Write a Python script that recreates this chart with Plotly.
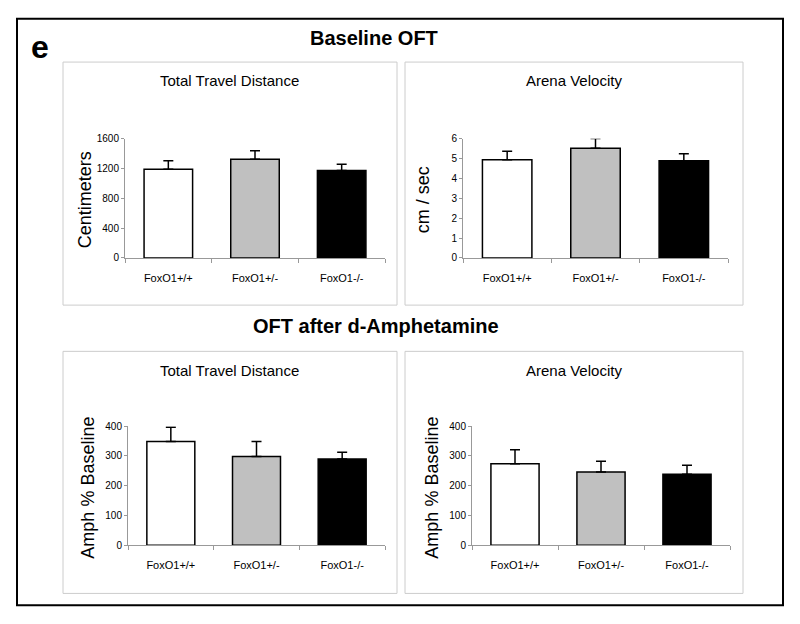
import plotly.graph_objects as go

W, H = 800, 624

genotypes = ["FoxO1+/+", "FoxO1+/-", "FoxO1-/-"]
bar_colors = ["white", "#c0c0c0", "black"]

# baseline open field test
base_dist = [1190, 1325, 1175]
base_dist_err = [115, 115, 82]
base_vel = [4.95, 5.52, 4.9]
base_vel_err = [0.42, 0.5, 0.35]

# after d-amphetamine, % of baseline
amph_dist = [348, 298, 290]
amph_dist_err = [48, 50, 22]
amph_vel = [274, 246, 238]
amph_vel_err = [47, 36, 31]


def px(x):
    return x / W


def py(y):
    return 1 - y / H


FONT = "Liberation Sans, Arial"
AXCOL = "#999999"

fig = go.Figure()


def label(x, y, text, size, angle=0):
    fig.add_annotation(x=px(x), y=py(y), xref="paper", yref="paper", text=text,
                       textangle=angle, showarrow=False, xanchor="center", yanchor="middle",
                       font=dict(family=FONT, size=size, color="black"))


# panel frames in px: x0, x1, y0, y1
frames = [(63, 397, 58, 305), (405, 743, 58, 305), (63, 397, 352, 598), (405, 743, 352, 598)]

panels = [
    # values, errors, y range, dtick, y title, plot box (x0, x1, ybottom, ytop) in px, panel title
    (base_dist, base_dist_err, [0, 1600], 400, "Centimeters", (125, 385, 257, 136), "Total Travel Distance"),
    (base_vel, base_vel_err, [0, 6], 1, "cm / sec", (463, 728, 257, 136), "Arena Velocity"),
    (amph_dist, amph_dist_err, [0, 400], 100, "Amph % Baseline", (128, 385, 549, 428), "Total Travel Distance"),
    (amph_vel, amph_vel_err, [0, 400], 100, "Amph % Baseline", (472, 730, 549, 428), "Arena Velocity"),
]

for i, (vals, errs, yr, dt, ytitle, box, ptitle) in enumerate(panels):
    n = "" if i == 0 else str(i + 1)
    fig.add_trace(go.Bar(
        x=genotypes, y=vals, width=0.56,
        marker=dict(color=bar_colors, line=dict(color="black", width=1.5)),
        error_y=dict(type="data", array=errs, arrayminus=[0, 0, 0], symmetric=False,
                     color="black", thickness=1.5, width=5),
        xaxis="x" + n, yaxis="y" + n, showlegend=False,
    ))
    x0, x1, yb, yt = box
    fig.layout["xaxis" + n] = dict(
        domain=[px(x0), px(x1)], anchor="y" + n, range=[-0.5, 2.5],
        showline=True, linecolor=AXCOL, linewidth=1,
        ticks="outside", tickson="boundaries", ticklen=4, tickcolor=AXCOL,
        tickfont=dict(family=FONT, size=11, color="black"), ticklabelstandoff=10,
        showgrid=False, zeroline=False, fixedrange=True,
    )
    fig.layout["yaxis" + n] = dict(
        domain=[py(yb), py(yt)], anchor="x" + n, range=yr, dtick=dt,
        showline=True, linecolor=AXCOL, linewidth=1,
        ticks="outside", ticklen=3, tickcolor=AXCOL,
        tickfont=dict(family=FONT, size=10, color="black"),
        showgrid=False, zeroline=False, fixedrange=True,
    )
    fx0, fx1, fy0, fy1 = frames[i]
    label(x0 - 40, (yb + yt) / 2 + 2, ytitle, 18, -90)
    label((fx0 + fx1) / 2, fy0 + 19, ptitle, 15)

shapes = [
    dict(type="rect", xref="paper", yref="paper", x0=px(17), x1=px(783), y0=py(14), y1=py(610),
         line=dict(color="black", width=2)),
]
for (a, b, c, d) in frames:
    shapes.append(dict(type="rect", xref="paper", yref="paper",
                       x0=px(a), x1=px(b), y0=py(c), y1=py(d),
                       line=dict(color="#cccccc", width=1)))
fig.update_layout(shapes=shapes)

label(40, 43, "<b>e</b>", 32)
label(374, 34, "<b>Baseline OFT</b>", 20)
label(376, 326, "<b>OFT after d-Amphetamine</b>", 20)

fig.update_layout(
    width=W, height=H, autosize=False,
    margin=dict(l=0, r=0, t=0, b=0),
    paper_bgcolor="white", plot_bgcolor="white",
)

fig.write_html("out.html", config={"displayModeBar": False},
               post_script="document.body.style.margin='0';document.body.style.overflow='hidden';")
